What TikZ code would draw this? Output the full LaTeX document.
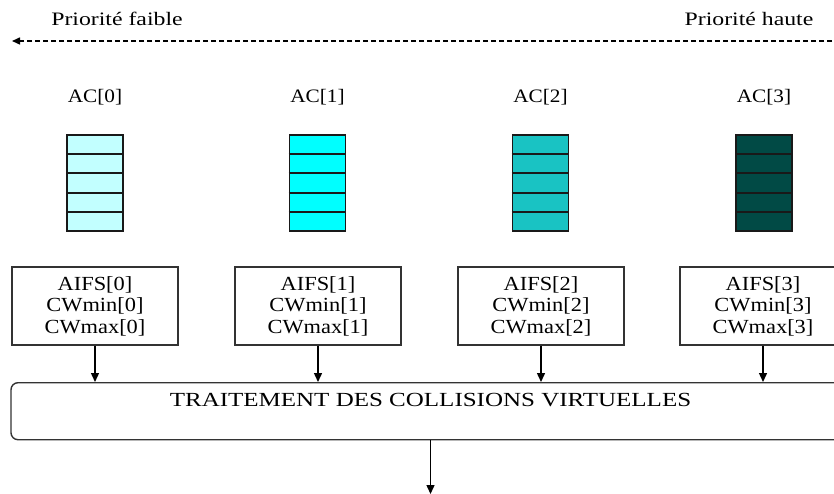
\documentclass[tikz,border=0pt]{standalone}
\usepackage{fontspec}
\setmainfont{Liberation Serif}[FakeStretch=1.12]
\newfontfamily\widefont{Liberation Serif}[FakeStretch=1.25]
\usetikzlibrary{arrows.meta,calc}
\definecolor{qzero}{HTML}{C2FFFF}
\definecolor{qone}{HTML}{00FFFF}
\definecolor{qtwo}{HTML}{19C3C3}
\definecolor{qthree}{HTML}{014A45}
\definecolor{edge}{HTML}{333333}
\begin{document}
\begin{tikzpicture}[x=1pt,y=-1pt,
  lbl/.style={font=\fontsize{19}{21}\selectfont, inner sep=0pt},
  prlbl/.style={font=\widefont\fontsize{19}{21}\selectfont, inner sep=0pt},
  queue/.style={draw=black!90, line width=1.9pt, minimum width=56pt, minimum height=96pt, inner sep=0pt},
  param/.style={draw=edge, line width=1.3pt, minimum width=166pt, minimum height=78pt, inner sep=0pt, align=center, font=\fontsize{20}{21.5}\selectfont},
  conn/.style={-{Triangle[length=9pt,width=8pt]}, line width=1.4pt},
  prio/.style={dashed, dash pattern=on 5pt off 3pt, line width=1.5pt, -{Triangle[length=8pt,width=7pt]}}
]
\useasboundingbox (0,0) rectangle (834,494);
\clip (0,0) rectangle (834,494);
\fill[white] (0,0) rectangle (834,494);

\node[prlbl] (low) at (117,19) {Priorité faible};
\node[prlbl] (high) at (749,19) {Priorité haute};
\coordinate (pr) at (840,41);
\coordinate (pl) at (12,41);
\draw[prio] (pr) -- (pl);

\node[draw=edge, line width=1.4pt, rounded corners=7pt, anchor=north, minimum width=839pt,
      inner ysep=0pt, text height=24pt, text depth=33pt, font=\widefont\fontsize{20}{21}\selectfont]
  (coll) at (430.5,382) {TRAITEMENT DES COLLISIONS VIRTUELLES};

\foreach \i/\x/\c in {0/95/qzero,1/317.5/qone,2/540.5/qtwo,3/764/qthree}{
  \node[lbl] (ac\i) at (\x,97) {AC[\i]};
  \node[queue, fill=\c] (q\i) at (\x,183) {};
  \foreach \k in {1,...,4}{
    \draw[line width=1.9pt, black!90] ($(q\i.north west)!\k/5!(q\i.south west)$) -- ($(q\i.north east)!\k/5!(q\i.south east)$);
  }
}
\foreach \i/\x in {0/95,1/318,2/541,3/763}{
  \node[param] (p\i) at (\x,306) {AIFS[\i]\\CWmin[\i]\\CWmax[\i]};
  \draw[conn] (p\i.south) -- (p\i.south |- coll.north);
}
\coordinate (out) at (430.5,494);
\draw[conn] (coll.south) -- (out);
\end{tikzpicture}
\end{document}
